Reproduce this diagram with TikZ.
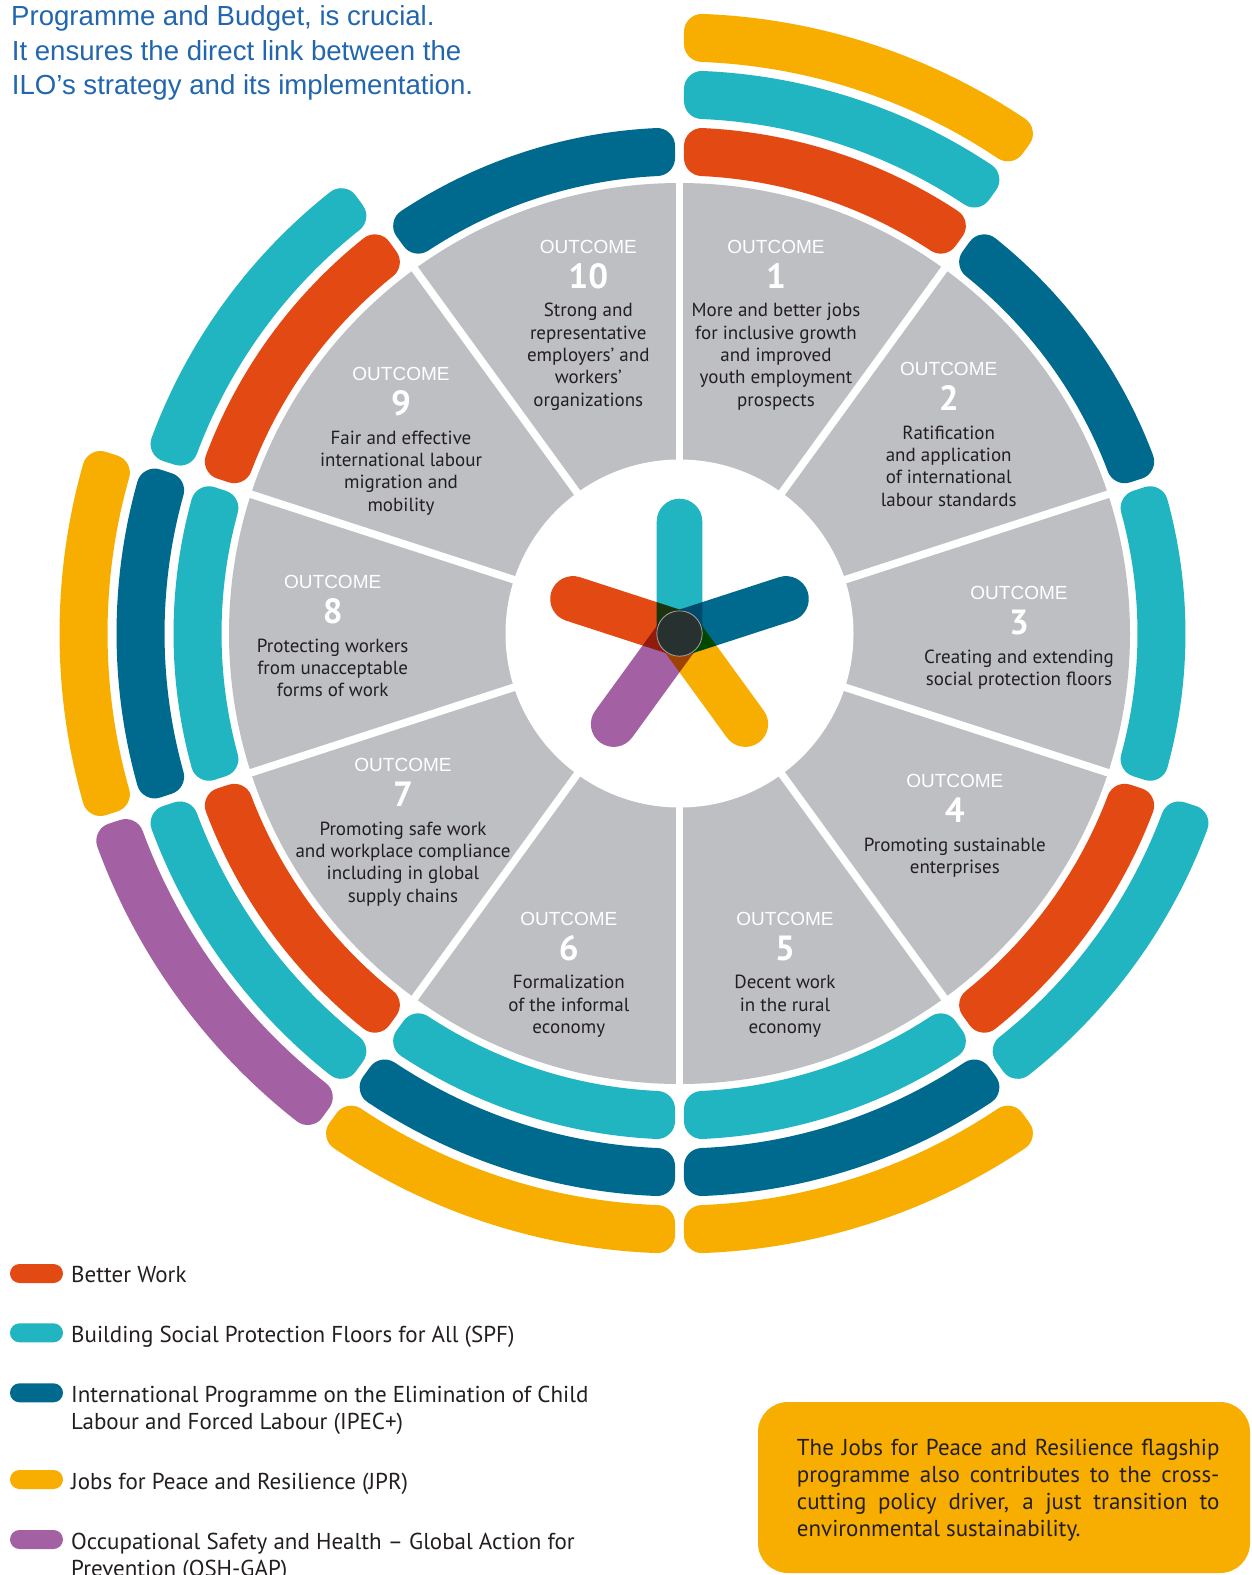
\documentclass[tikz,border=0pt]{standalone}
\usepackage{fontspec}
\setmainfont{PT Sans}
\newfontfamily\arialfont{Liberation Sans}
\definecolor{bw}{HTML}{E34A13}
\definecolor{spf}{HTML}{20B5C1}
\definecolor{ipec}{HTML}{006A8E}
\definecolor{jpr}{HTML}{F7AE00}
\definecolor{osh}{HTML}{A361A3}
\definecolor{wedgegrey}{HTML}{BEBFC3}
\definecolor{ilob}{HTML}{2266AE}
\definecolor{txt}{HTML}{231F20}
\definecolor{hub}{HTML}{263130}
\newcommand\band[4]{%
  \pgfmathsetmacro\bRin{458+57*(#3-1)+18}%
  \pgfmathsetmacro\bRout{458+57*(#3-1)+48-18}%
  \pgfmathsetmacro\bAa{#1+asin(22.5/\bRin)}%
  \pgfmathsetmacro\bAb{#2-asin(22.5/\bRin)}%
  \pgfmathsetmacro\bBa{#1+asin(22.5/\bRout)}%
  \pgfmathsetmacro\bBb{#2-asin(22.5/\bRout)}%
  \filldraw[#4, line width=36pt, line join=round]
    (\bAa:\bRin) arc[start angle=\bAa, end angle=\bAb, radius=\bRin]
    -- (\bBb:\bRout) arc[start angle=\bBb, end angle=\bBa, radius=\bRout] -- cycle;
}
\newcommand\outcome[5]{%
  \node[octitle] (#1-t) at (#2,#3) {OUTCOME};
  \node[ocnum] (#1-n) at ({#2},{#3+35}) {#4};
  \foreach \txtline [count=\i] in {#5}
    \node[octext] (#1-l\i) at ({#2},{#3+63.4+22.4*(\i-1)}) {\txtline};
}
\begin{document}
\begin{tikzpicture}[x=1pt,y=-1pt,
  octitle/.style={anchor=base, inner sep=0pt, text=white, font=\arialfont\fontsize{19}{24}\selectfont},
  ocnum/.style={anchor=base, inner sep=0pt, text=white, font=\fontsize{35}{40}\selectfont\bfseries},
  octext/.style={anchor=base, inner sep=0pt, text=txt, font=\fontsize{19}{22.4}\selectfont},
  swatch/.style={draw=none, inner sep=0pt, minimum width=53pt, minimum height=19pt, rounded corners=9.5pt},
  legtext/.style={anchor=base west, inner sep=0pt, text=txt, font=\fontsize{23}{27}\selectfont},
  toptext/.style={anchor=base west, inner sep=0pt, text=ilob, font=\arialfont\fontsize{27.6}{34.5}\selectfont},
  boxtext/.style={anchor=base west, inner sep=0pt, text=txt, font=\fontsize{23}{27.2}\selectfont}]
\useasboundingbox (0,0) rectangle (1251,1575);
\fill[white] (0,0) rectangle (1251,1575);
\coordinate (C) at (679.5,633.5);
\begin{scope}[shift={(C)}, yscale=-1]
  \fill[wedgegrey] (0,0) circle[radius=450.5];
  \foreach \a in {90,54,18,-18,-54,-90,-126,-162,162,126}
    \draw[white, line width=7.6pt] (0,0) -- (\a:456);
  \fill[white] (0,0) circle[radius=174];
  % outcome 1
  \band{54}{90}{1}{bw}\band{54}{90}{2}{spf}\band{54}{90}{3}{jpr}
  % outcome 2
  \band{18}{54}{1}{ipec}
  % outcome 3
  \band{-18}{18}{1}{spf}
  % outcome 4
  \band{-54}{-18}{1}{bw}\band{-54}{-18}{2}{spf}
  % outcome 5
  \band{-90}{-54}{1}{spf}\band{-90}{-54}{2}{ipec}\band{-90}{-54}{3}{jpr}
  % outcome 6
  \band{-126}{-90}{1}{spf}\band{-126}{-90}{2}{ipec}\band{-126}{-90}{3}{jpr}
  % outcome 7
  \band{-162}{-126}{1}{bw}\band{-162}{-126}{2}{spf}\band{-162}{-126}{3}{osh}
  % outcome 8
  \band{162}{198}{1}{spf}\band{162}{198}{2}{ipec}\band{162}{198}{3}{jpr}
  % outcome 9
  \band{126}{162}{1}{bw}\band{126}{162}{2}{spf}
  % outcome 10
  \band{90}{126}{1}{ipec}
\end{scope}
% star: rotate acts on the page frame (y up)
\begin{scope}[shift={(C)}]
  \begin{scope}[blend group=multiply]
    \foreach \a/\c in {90/spf,18/ipec,-54/jpr,-126/osh,162/bw}
      \fill[\c, rotate=\a] (0,-22.8) -- (112,-22.8) arc[start angle=-90, end angle=90, radius=22.8] -- (0,22.8) -- cycle;
  \end{scope}
  \filldraw[fill=hub, draw=gray!70, line width=0.8pt] (0,0) circle[radius=22.7];
\end{scope}
% outcome labels
\outcome{o1}{776}{253.3}{1}{More and better jobs,for inclusive growth,and improved,youth employment,prospects}
\outcome{o2}{948.7}{375.6}{2}{Ratification,and application,of international,labour standards}
\outcome{o3}{1019}{599.7}{3}{Creating and extending,social protection floors}
\outcome{o4}{954.8}{787.7}{4}{Promoting sustainable,enterprises}
\outcome{o5}{785}{925.3}{5}{Decent work,in the rural,economy}
\outcome{o6}{568.8}{925.3}{6}{Formalization,of the informal,economy}
\outcome{o7}{403}{771.6}{7}{Promoting safe work,and workplace compliance,including in global,supply chains}
\outcome{o8}{332.7}{588.7}{8}{Protecting workers,from unacceptable,forms of work}
\outcome{o9}{401}{380.6}{9}{Fair and effective,international labour,migration and,mobility}
\outcome{o10}{588.3}{253.3}{10}{Strong and,representative,employers’ and,workers’,organizations}
% top-left text
\node[toptext] (t1) at (11,25) {Programme and Budget, is crucial.};
\node[toptext] (t2) at (11.7,60) {It ensures the direct link between the};
\node[toptext] (t3) at (11.7,94.3) {ILO’s strategy and its implementation.};
% legend
\node[swatch, fill=bw] (sw1) at (36.5,1273.5) {};
\node[legtext] (lg1) at (71,1282.3) {Better Work};
\node[swatch, fill=spf] (sw2) at (36.5,1332.8) {};
\node[legtext] (lg2) at (71,1342.3) {Building Social Protection Floors for All (SPF)};
\node[swatch, fill=ipec] (sw3) at (36.5,1392.8) {};
\node[legtext] (lg3) at (71,1402.3) {International Programme on the Elimination of Child};
\node[legtext] (lg3b) at (71,1429.3) {Labour and Forced Labour (IPEC+)};
\node[swatch, fill=jpr] (sw4) at (36.5,1479.5) {};
\node[legtext] (lg4) at (71,1489) {Jobs for Peace and Resilience (JPR)};
\node[swatch, fill=osh] (sw5) at (36.5,1539.5) {};
\node[legtext] (lg5) at (71,1549) {Occupational Safety and Health – Global Action for};
\node[legtext] (lg5b) at (71,1576) {Prevention (OSH-GAP)};
% box
\fill[jpr, rounded corners=30pt] (758,1402) rectangle (1250,1573);
\node[boxtext] (b1) at (796.7,1455) {\makebox[422.6pt][s]{The Jobs for Peace and Resilience flagship}};
\node[boxtext] (b2) at (796.7,1482.3) {\makebox[422.6pt][s]{programme also contributes to the cross-}};
\node[boxtext] (b3) at (796.7,1509.3) {\makebox[422.6pt][s]{cutting policy driver, a just transition to}};
\node[boxtext] (b4) at (796.7,1536.7) {environmental sustainability.};
\end{tikzpicture}
\end{document}
